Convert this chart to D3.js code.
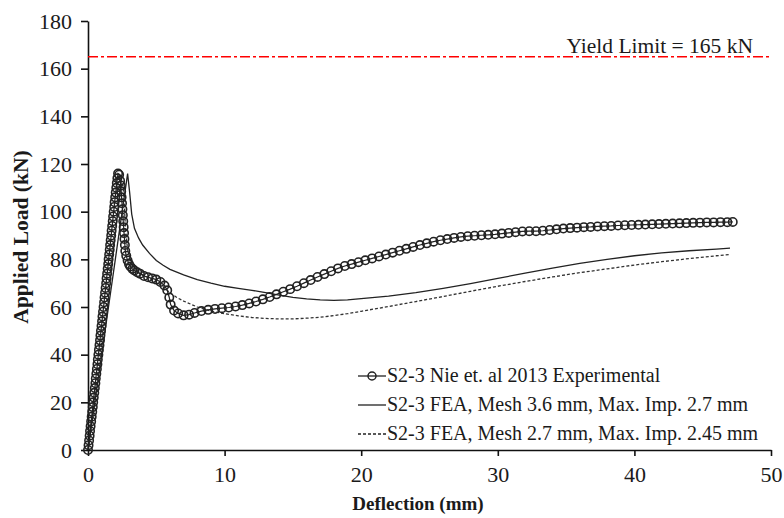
<!DOCTYPE html>
<html>
<head>
<meta charset="utf-8">
<script src="https://cdn.jsdelivr.net/npm/d3@7"></script>
<style>
  body { margin: 0; background: #fff; }
  svg { display: block; }
</style>
</head>
<body>
<div id="chart"></div>
<script>
// experimental curve (Nie et al. 2013)
const expX = [0, 0.04, 0.08, 0.12, 0.15, 0.19, 0.23, 0.27, 0.31, 0.35, 0.38, 0.42, 0.46, 0.5, 0.54, 0.57, 0.61, 0.65, 0.69, 0.72,
  0.76, 0.8, 0.84, 0.88, 0.91, 0.95, 0.99, 1.03, 1.06, 1.1, 1.14, 1.18, 1.21, 1.25, 1.29, 1.33, 1.36, 1.4, 1.44, 1.48,
  1.51, 1.55, 1.59, 1.62, 1.66, 1.7, 1.73, 1.77, 1.81, 1.84, 1.88, 1.92, 1.95, 1.99, 2.03, 2.07, 2.11, 2.15, 2.2,
  2.28, 2.35, 2.4, 2.43, 2.46, 2.49, 2.52, 2.55, 2.58, 2.61, 2.64, 2.67, 2.7, 2.73, 2.8, 2.9, 3.0, 3.1, 3.25, 3.4, 3.6,
  3.8, 4.1, 4.4, 4.7, 5.0, 5.3, 5.6, 5.8, 5.95, 6.05,
  6.3, 6.6, 7.0, 7.4, 7.8, 8.3, 8.8, 9.3, 9.8, 10.3, 10.8, 11.3, 11.8, 12.3, 12.8, 13.3, 13.8, 14.3, 14.8, 15.3, 15.8,
  16.3, 16.8, 17.3, 17.8, 18.3, 18.8, 19.3, 19.8, 20.3, 20.8, 21.3, 21.8, 22.3, 22.8, 23.3, 23.8, 24.3, 24.8, 25.3, 25.8,
  26.3, 26.8, 27.3, 27.8, 28.3, 28.8, 29.3, 29.8, 30.3, 30.8, 31.3, 31.8, 32.3, 32.8, 33.3, 33.8, 34.3, 34.8, 35.3, 35.8,
  36.3, 36.8, 37.3, 37.8, 38.3, 38.8, 39.3, 39.8, 40.3, 40.8, 41.3, 41.8, 42.3, 42.8, 43.3, 43.8, 44.3, 44.8, 45.3, 45.8,
  46.3, 46.8, 47.2]
const expY = [0, 2, 4, 6, 8, 10, 12, 14, 16, 18, 20, 22, 24, 26, 28, 30, 32, 34, 36, 38,
  40, 42, 44, 46, 48, 50, 52, 54, 56, 58, 60, 62, 64, 66, 68, 70, 72, 74, 76, 78,
  80, 82, 84, 86, 88, 90, 92, 94, 96, 98, 100, 102, 104, 106, 108, 110, 112, 114, 116,
  115.5, 113, 111, 108.5, 106, 103.5, 101, 98.5, 96, 93.5, 91, 88.5, 86, 83.5, 81.5, 79.5, 78, 77, 76, 75.3, 74.6,
  74, 73, 72.5, 72, 71.5, 70.5, 69, 67, 64, 61,
  58.5, 57.3, 56.5, 56.8, 57.5, 58.3, 58.8, 59.2, 59.5, 59.8, 60.2, 60.8, 61.5, 62.3, 63.2, 64.2, 65.3, 66.4, 67.5, 68.7, 70,
  71.3, 72.6, 73.8, 75, 76.2, 77.2, 78, 78.8, 79.6, 80.4, 81.2, 82, 82.8, 83.6, 84.4, 85.2, 86, 86.7, 87.4, 88,
  88.5, 89, 89.4, 89.7, 89.9, 90.1, 90.3, 90.5, 90.8, 91.1, 91.4, 91.7, 91.8, 91.8, 92, 92.3, 92.6, 92.9, 93.1, 93.3,
  93.5, 93.6, 93.8, 93.9, 94, 94.2, 94.3, 94.4, 94.5, 94.6, 94.7, 94.8, 94.9, 95, 95.1, 95.2, 95.3, 95.4, 95.5, 95.5,
  95.6, 95.6, 95.7]

// FEA, mesh 3.6 mm, max imp 2.7 mm (solid)
const feaAX = [0, 0.5, 1, 1.5, 2, 2.5, 2.9, 3.05, 3.2, 3.4, 3.7, 4.0, 4.5, 5, 5.5, 6, 7, 8, 9, 10, 11, 12, 13, 14, 15, 16, 17, 18,
  19, 20, 22, 24, 26, 28, 30, 32, 34, 36, 38, 40, 42, 44, 46, 47]
const feaAY = [0, 20, 40, 60, 80, 100, 116, 108, 99, 93, 89, 86, 82.5, 79.5, 77.5, 75.8, 73.5, 71.5, 70, 68.7, 67.8, 67, 66, 65, 64, 63.4, 63, 62.8,
  63, 63.5, 64.6, 66, 67.8, 69.8, 72, 74.2, 76.3, 78.3, 80, 81.5, 82.7, 83.6, 84.3, 84.7]

// FEA, mesh 2.7 mm, max imp 2.45 mm (dashed)
const feaBX = [0, 0.5, 1, 1.5, 2, 2.4, 2.55, 2.65, 2.75, 2.9, 3.2, 3.6, 4, 4.5, 5, 5.5, 6, 6.5, 7, 8, 9, 10, 11, 12, 13, 14, 15,
  16, 17, 18, 19, 20, 22, 24, 26, 28, 30, 32, 34, 36, 38, 40, 42, 44, 46, 47]
const feaBY = [0, 22, 45, 68, 92, 110, 112, 104, 92, 84, 78, 75, 73.5, 72, 70.5, 68.5, 66, 64, 62.5, 60, 58.3, 57.2, 56.3, 55.6, 55.2, 55, 55,
  55.3, 55.7, 56.4, 57.2, 58.2, 60.2, 62.3, 64.4, 66.6, 68.7, 70.7, 72.6, 74.4, 76, 77.6, 79, 80.3, 81.5, 82]

const xTicks = [0, 10, 20, 30, 40, 50]
const yTicks = [0, 20, 40, 60, 80, 100, 120, 140, 160, 180]
const yieldLimit = 165
const legendLabels = [
  'S2-3 Nie et. al 2013 Experimental',
  'S2-3 FEA, Mesh 3.6 mm, Max. Imp. 2.7 mm',
  'S2-3 FEA, Mesh 2.7 mm, Max. Imp. 2.45 mm'
]

const W = 784, H = 518
const margin = { left: 88, top: 21, right: 13, bottom: 68 }
const font = '"Liberation Serif", "Times New Roman", serif'

const svg = d3.select('#chart').append('svg')
  .attr('width', W).attr('height', H)
  .style('font-family', font)

const x = d3.scaleLinear().domain([0, 50]).range([margin.left, W - margin.right])
const y = d3.scaleLinear().domain([0, 180]).range([H - margin.bottom, margin.top])

// axes
const xAxis = svg.append('g')
  .attr('transform', `translate(0,${y(0)})`)
  .call(d3.axisBottom(x).tickValues(xTicks).tickSize(6).tickPadding(10).tickSizeOuter(0))
const yAxis = svg.append('g')
  .attr('transform', `translate(${x(0)},0)`)
  .call(d3.axisLeft(y).tickValues(yTicks).tickSize(7).tickPadding(9).tickSizeOuter(0))

;[xAxis, yAxis].forEach(a => {
  a.select('.domain').attr('stroke', '#111').attr('stroke-width', 1.6)
  a.selectAll('.tick line').attr('stroke', '#111').attr('stroke-width', 1.6)
  a.selectAll('.tick text')
    .attr('fill', '#1a1a1a')
    .style('font-family', font)
    .style('font-size', '22px')
})

// yield limit line
svg.append('line')
  .attr('x1', x(0)).attr('x2', x(50))
  .attr('y1', y(yieldLimit)).attr('y2', y(yieldLimit))
  .attr('stroke', '#ff0000')
  .attr('stroke-width', 1.6)
  .attr('stroke-dasharray', '10,3,3,3')
svg.append('text')
  .attr('x', 753).attr('y', y(yieldLimit) - 4)
  .attr('text-anchor', 'end')
  .attr('fill', '#1a1a1a')
  .style('font-size', '21.5px')
  .text(`Yield Limit = ${yieldLimit} kN`)

// lines
const line = d3.line().x(d => x(d[0])).y(d => y(d[1]))
const expData = d3.zip(expX, expY)
const feaA = d3.zip(feaAX, feaAY)
const feaB = d3.zip(feaBX, feaBY)

svg.append('path').datum(feaB)
  .attr('d', line).attr('fill', 'none')
  .attr('stroke', '#333').attr('stroke-width', 1.3)
  .attr('stroke-dasharray', '3,2')
svg.append('path').datum(feaA)
  .attr('d', line).attr('fill', 'none')
  .attr('stroke', '#222').attr('stroke-width', 1.3)
svg.append('path').datum(expData)
  .attr('d', line).attr('fill', 'none')
  .attr('stroke', '#222').attr('stroke-width', 1.2)
svg.append('g').selectAll('circle').data(expData).join('circle')
  .attr('cx', d => x(d[0])).attr('cy', d => y(d[1]))
  .attr('r', 4.2)
  .attr('fill', 'none')
  .attr('stroke', '#222')
  .attr('stroke-width', 1.6)

// legend
const lg = svg.append('g').attr('transform', 'translate(358,376)')
legendLabels.forEach((lab, i) => {
  const row = lg.append('g').attr('transform', `translate(0,${i * 29})`)
  row.append('line')
    .attr('x1', 0).attr('x2', 28).attr('y1', 0).attr('y2', 0)
    .attr('stroke', '#222').attr('stroke-width', 1.3)
    .attr('stroke-dasharray', i === 2 ? '3,2' : null)
  if (i === 0) {
    row.append('circle').attr('cx', 14).attr('cy', 0).attr('r', 4)
      .attr('fill', 'none').attr('stroke', '#222').attr('stroke-width', 1.5)
  }
  row.append('text')
    .attr('x', 29).attr('y', 6)
    .attr('fill', '#1a1a1a')
    .style('font-size', '20px')
    .text(lab)
})

// axis titles
svg.append('text')
  .attr('x', 418).attr('y', 510)
  .attr('text-anchor', 'middle')
  .attr('fill', '#1a1a1a')
  .style('font-size', '19px').style('font-weight', 'bold')
  .text('Deflection (mm)')
svg.append('text')
  .attr('transform', 'translate(28,237) rotate(-90)')
  .attr('text-anchor', 'middle')
  .attr('fill', '#1a1a1a')
  .style('font-size', '21.5px').style('font-weight', 'bold')
  .text('Applied Load (kN)')
</script>
</body>
</html>
